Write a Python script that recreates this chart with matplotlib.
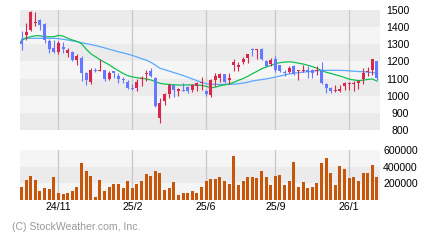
import matplotlib
matplotlib.use('Agg')
import matplotlib.pyplot as plt
import numpy as np

plt.rcParams['font.family'] = ['Liberation Sans', 'DejaVu Sans']

# ---- data (weekly candles) ----
tick_pos = [8, 24, 40, 55, 71]
tick_labels = ['24/11', '25/2', '25/6', '25/9', '26/1']

opens = [1321, 1354, 1383, 1424, 1442, 1418, 1319, 1278, 1255, 1284, 1249, 1255, 1208, 1220, 1132, 1080,
         1150, 1146, 1150, 1098, 1144, 1115, 1098, 1080, 1045, 1045, 1098, 1126, 1144, 1103, 870, 969,
         1010, 1062, 1027, 1033, 1051, 1033, 1057, 1074, 1027, 1004, 1092, 1103, 1126, 1092, 1179, 1168,
         1197, 1220, 1272, 1267, 1272, 1203, 1185, 1214, 1179, 1138, 1140, 1173, 1142, 1144, 1152, 1148,
         1144, 1150, 1068, 1047, 1027, 1027, 1059, 1070, 1068, 1072, 1099, 1140, 1150, 1203]
highs = [1377, 1424, 1494, 1488, 1447, 1424, 1331, 1325, 1319, 1313, 1278, 1261, 1243, 1232, 1138, 1162,
         1162, 1214, 1150, 1144, 1144, 1132, 1109, 1092, 1068, 1098, 1115, 1150, 1162, 1109, 987, 1016,
         1068, 1062, 1045, 1074, 1057, 1068, 1080, 1109, 1033, 1098, 1132, 1132, 1126, 1132, 1214, 1197,
         1226, 1243, 1278, 1272, 1278, 1208, 1220, 1232, 1179, 1150, 1173, 1179, 1150, 1179, 1173, 1156,
         1171, 1195, 1074, 1053, 1060, 1064, 1082, 1082, 1088, 1092, 1164, 1169, 1214, 1203]
lows = [1267, 1325, 1377, 1407, 1383, 1307, 1249, 1249, 1243, 1249, 1226, 1202, 1179, 1086, 1062, 1068,
        1138, 1144, 1086, 1092, 1103, 1074, 1074, 1039, 1033, 1027, 1057, 1086, 1109, 934, 841, 946,
        987, 992, 998, 1027, 1016, 1022, 1027, 1033, 998, 992, 1057, 1080, 1074, 1068, 1144, 1144,
        1185, 1191, 1232, 1214, 1208, 1168, 1173, 1138, 1138, 1115, 1130, 1123, 1092, 1138, 1105, 1103,
        1121, 1068, 1018, 1018, 1024, 1024, 1033, 1033, 1029, 1041, 1070, 1117, 1123, 1090]
closes = [1304, 1372, 1486, 1430, 1413, 1325, 1272, 1255, 1307, 1272, 1267, 1208, 1232, 1132, 1092, 1150,
          1144, 1152, 1098, 1132, 1132, 1098, 1092, 1045, 1039, 1080, 1103, 1132, 1115, 940, 957, 1010,
          1062, 1033, 1039, 1027, 1027, 1062, 1074, 1080, 1010, 1092, 1115, 1126, 1080, 1103, 1197, 1179,
          1214, 1243, 1267, 1272, 1214, 1173, 1208, 1150, 1144, 1132, 1162, 1129, 1146, 1150, 1140, 1132,
          1150, 1076, 1047, 1029, 1035, 1039, 1076, 1076, 1074, 1086, 1134, 1146, 1214, 1101]
ma13 = [1321, 1339, 1344, 1350, 1350, 1344, 1344, 1344, 1352, 1348, 1335, 1325, 1317, 1304, 1272, 1245,
        1228, 1210, 1195, 1180, 1162, 1146, 1130, 1117, 1110, 1105, 1102, 1098, 1092, 1082, 1072, 1068,
        1066, 1064, 1062, 1062, 1063, 1063, 1062, 1060, 1055, 1046, 1050, 1058, 1063, 1068, 1078, 1090,
        1100, 1113, 1128, 1142, 1157, 1167, 1177, 1186, 1193, 1196, 1198, 1195, 1190, 1185, 1178, 1170,
        1160, 1147, 1137, 1130, 1122, 1115, 1106, 1097, 1092, 1088, 1091, 1095, 1098, 1085]
ma26 = [1329, 1333, 1335, 1335, 1335, 1335, 1335, 1335, 1333, 1329, 1325, 1320, 1315, 1309, 1304, 1299,
        1293, 1286, 1279, 1271, 1264, 1256, 1250, 1243, 1235, 1226, 1216, 1208, 1195, 1178, 1160, 1152,
        1144, 1135, 1127, 1118, 1108, 1098, 1088, 1078, 1070, 1067, 1066, 1066, 1066, 1066, 1067, 1070,
        1074, 1078, 1086, 1090, 1094, 1098, 1103, 1109, 1115, 1121, 1127, 1131, 1134, 1137, 1140, 1143,
        1146, 1148, 1148, 1148, 1148, 1148, 1147, 1145, 1143, 1141, 1140, 1138, 1135, 1131]
volume = [156000, 240000, 288000, 240000, 108000, 144000, 132000, 276000, 84000, 72000, 84000, 108000, 156000,
          444000, 348000, 288000, 36000, 240000, 108000, 156000, 192000, 192000, 144000, 228000, 144000, 192000,
          228000, 312000, 288000, 348000, 324000, 120000, 144000, 216000, 60000, 84000, 84000, 108000, 84000,
          156000, 228000, 252000, 252000, 276000, 228000, 192000, 528000, 180000, 228000, 276000, 276000, 264000,
          348000, 276000, 180000, 288000, 300000, 180000, 228000, 456000, 156000, 216000, 144000, 156000,
          204000, 444000, 504000, 324000, 180000, 408000, 372000, 264000, 276000, 228000, 324000, 324000,
          420000, 276000]
price_ticks = [800, 900, 1000, 1100, 1200, 1300, 1400, 1500]
vol_ticks = [200000, 400000, 600000]
vol_labels = ['200000', '400000', '600000']

# ---- styles ----
UP = '#d8264c'
DOWN = '#6479ff'
VOLC = '#c8560a'
GREEN = '#10c050'
LBLUE = '#5aa8ff'
DARK = '#ebebeb'
LIGHT = '#f5f5f5'
GRID = '#c8c8c8'
FS = 7.6

W, H = 440, 240
fig = plt.figure(figsize=(W / 100, H / 100), dpi=100)
ax = fig.add_axes([20 / W, (H - 130) / H, 360 / W, 120 / H])
axv = fig.add_axes([20 / W, (H - 200) / H, 360 / W, 50 / H])

n = len(opens)
x = np.arange(n)
o = np.array(opens, float)
c = np.array(closes, float)
hi = np.array(highs, float)
lo = np.array(lows, float)

for a in (ax, axv):
    a.set_xlim(-0.33, n - 0.33)
    for s in a.spines.values():
        s.set_visible(False)
    for t in tick_pos:
        a.axvline(t, color=GRID, lw=0.9, zorder=1)

ax.set_ylim(price_ticks[0], price_ticks[-1])
for k in range(len(price_ticks) - 1):
    ax.axhspan(price_ticks[k], price_ticks[k + 1], color=DARK if k % 2 == 0 else LIGHT, lw=0, zorder=0)

axv.set_ylim(0, vol_ticks[-1])
vb = [0] + vol_ticks
for k in range(len(vb) - 1):
    axv.axhspan(vb[k], vb[k + 1], color=DARK if k % 2 == 1 else LIGHT, lw=0, zorder=0)

# moving averages
ax.plot(x, ma26, color=LBLUE, lw=0.9, zorder=2)
ax.plot(x, ma13, color=GREEN, lw=0.9, zorder=2)

# candles
cols = [UP if cc >= oo else DOWN for oo, cc in zip(o, c)]
ax.vlines(x, lo, hi, colors=cols, lw=0.8, zorder=3)
bottom = np.minimum(o, c)
height = np.maximum(np.abs(c - o), 6)
ax.bar(x, height, bottom=bottom, width=0.65, color=cols, lw=0, zorder=4)

# volume
axv.bar(x, volume, width=0.65, color=VOLC, lw=0, zorder=3)

# ticks
ax.set_xticks([])
ax.yaxis.tick_right()
ax.set_yticks(price_ticks)
ax.set_yticklabels([str(v) for v in price_ticks], fontsize=FS, ha='right')
ax.tick_params(axis='y', length=0, pad=20.9)

axv.yaxis.tick_right()
axv.set_yticks(vol_ticks)
axv.set_yticklabels(vol_labels, fontsize=FS, ha='left')
axv.tick_params(axis='y', length=0, pad=2.2)
axv.set_xticks(tick_pos)
axv.set_xticklabels(tick_labels, fontsize=FS)
axv.tick_params(axis='x', length=0, pad=1.5)

fig.text(12 / W, 1 - 227.5 / H, '(C) StockWeather.com, Inc.', color='#9a9a9a',
         fontsize=FS, va='center', ha='left')

fig.savefig('out.png', dpi=100)
